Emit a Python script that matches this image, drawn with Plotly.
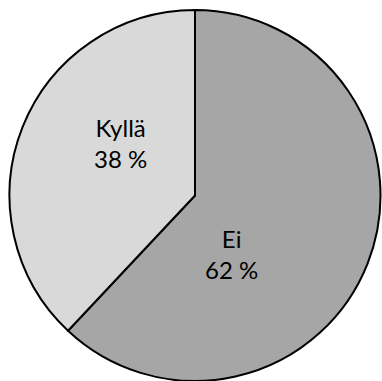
import plotly.graph_objects as go

# Survey answers and their shares (%)
labels = ["Ei", "Kyllä"]
values = [62, 38]
colors = ["#a6a6a6", "#d9d9d9"]

W, H = 382, 381

fig = go.Figure(
    go.Pie(
        labels=labels,
        values=values,
        sort=False,
        direction="clockwise",
        rotation=0,
        marker=dict(colors=colors, line=dict(color="#000000", width=2)),
        textinfo="none",
        hoverinfo="label+percent",
        domain=dict(x=[8 / W, 1], y=[0, 1 - 10 / H]),
    )
)

# Slice labels: category name above its share
label_pos = {"Ei": (231, 254), "Kyllä": (121, 143)}
for lab, val in zip(labels, values):
    px, py = label_pos[lab]
    fig.add_annotation(
        x=px / W, y=1 - py / H, xref="paper", yref="paper",
        xanchor="center", yanchor="middle",
        text=f"{lab}<br>{val} %", showarrow=False,
        font=dict(family="Lato, 'Open Sans', sans-serif", size=24, color="#000000"),
        align="center",
    )

fig.update_layout(
    width=W, height=H,
    margin=dict(l=0, r=0, t=0, b=0),
    paper_bgcolor="#ffffff",
    plot_bgcolor="#ffffff",
    showlegend=False,
)

fig.write_html("out.html")
